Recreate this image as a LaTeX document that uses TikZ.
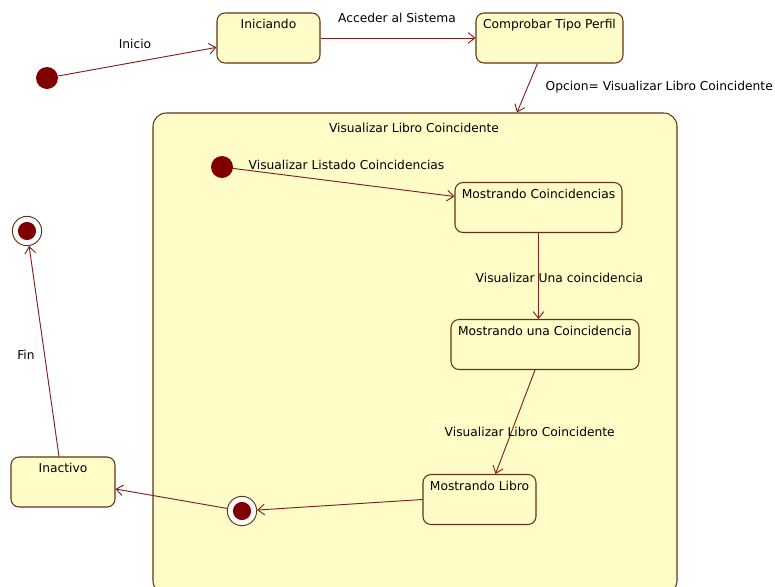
\documentclass[tikz,border=0pt]{standalone}
\usepackage{fontspec}
\setmainfont{DejaVu Sans}
\usetikzlibrary{arrows.meta,calc}
\definecolor{umlfill}{RGB}{255,252,200}
\definecolor{umlline}{RGB}{100,50,20}
\definecolor{umlarrow}{RGB}{128,32,28}
\definecolor{umldot}{RGB}{128,0,0}

\begin{document}
\begin{tikzpicture}[x=0.75pt,y=-0.75pt,font=\fontsize{9.2}{11}\selectfont,
    state/.style={draw=umlline,line width=0.8pt,fill=umlfill,rounded corners=6pt,inner xsep=2pt,inner ysep=2.25pt,text height=9.5pt,text depth=23.5pt},
    initdot/.style={circle,fill=umldot,minimum size=16.5pt,inner sep=0pt},
    finaldot/.style={circle,draw=umlline,line width=0.7pt,fill=white,minimum size=22pt,inner sep=0pt,
      path picture={\fill[umldot] (path picture bounding box.center) circle (6.8pt);}},
    trans/.style={draw=umlarrow,line width=0.7pt,-{Straight Barb[length=5pt,width=8pt]}}]
    \clip (0,0) rectangle (775,586);
    % outer states
    \node[initdot] (start) at (47,78) {};
    \node[state,minimum width=77.25pt] (ini) at (268.5,38) {Iniciando};
    \node[state,minimum width=110.25pt] (chk) at (549.5,38) {Comprobar Tipo Perfil};
    \node[state,minimum width=78pt] (inact) at (63,482) {Inactivo};
    \node[finaldot] (stop) at (27,231) {};
    % composite state
    \node[draw=umlline,line width=0.8pt,fill=umlfill,rounded corners=10pt,minimum width=393pt,minimum height=360.75pt] (vlc) at (415,353.5) {};
    \node (vlctitle) at (414,128) {Visualizar Libro Coincidente};
    \node[initdot] (vstart) at (222,167) {};
    \node[state,minimum width=125.25pt] (mc) at (538.5,207.5) {Mostrando Coincidencias};
    \node[state,minimum width=141pt] (muc) at (545,344.5) {Mostrando una Coincidencia};
    \node[state,minimum width=84.75pt] (ml) at (479.5,499.5) {Mostrando Libro};
    \node[finaldot] (vstop) at (242,511) {};
    % transitions
    \draw[trans] (start) -- (ini);
    \node (tInicio) at (135,44) {Inicio};
    \draw[trans] (ini) -- (chk);
    \node (tAcceder) at (397,18) {Acceder al Sistema};
    \draw[trans] ($(chk.south)+(-12,0)$) -- ($(vlc.north)+(102,0)$);
    \node[anchor=west] (tOpcion) at (541,87) {Opcion= Visualizar Libro Coincidente};
    \draw[trans] (vstart) -- ($(mc.west)+(0,-11)$);
    \node[anchor=west] (tListado) at (244,165) {Visualizar Listado Coincidencias};
    \draw[trans] (mc.south) -- (mc.south |- muc.north);
    \node[anchor=west] (tUna) at (471,278) {Visualizar Una coincidencia};
    \draw[trans] ($(muc.south)+(-10,0)$) -- ($(ml.north)+(16,0)$);
    \node[anchor=west] (tLibro) at (440,432) {Visualizar Libro Coincidente};
    \draw[trans] (ml.west) -- (vstop);
    \draw[trans] (vstop) -- ($(inact.east)+(0,7)$);
    \draw[trans] ($(inact.north)+(-4,0)$) -- (stop);
    \node (tFin) at (26,355) {Fin};
\end{tikzpicture}
\end{document}
